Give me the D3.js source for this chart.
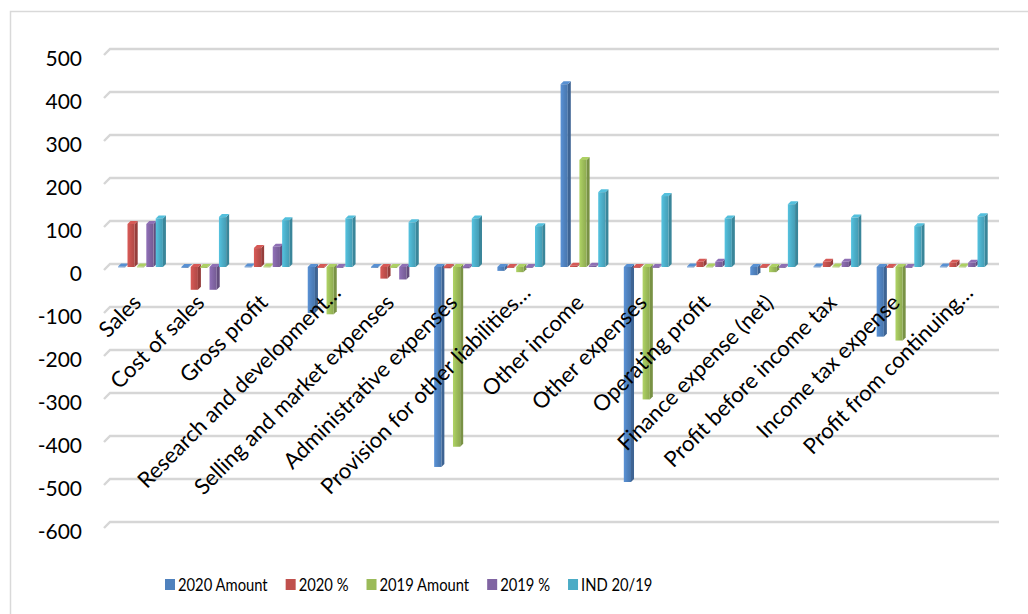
<!DOCTYPE html>
<html>
<head>
<meta charset="utf-8">
<script src="https://cdn.jsdelivr.net/npm/d3@7"></script>
<style>
  html, body { margin: 0; padding: 0; background: #ffffff; }
  svg { display: block; }
  text { font-family: Lato, "Open Sans", sans-serif; fill: #000; }
</style>
</head>
<body>
<svg id="chart" width="1028" height="614"></svg>
<script>
// Income statement lines
const categories = [
  "Sales", "Cost of sales", "Gross profit", "Research and development…",
  "Selling and market expenses", "Administrative expenses",
  "Provision for other liabilities…", "Other income", "Other expenses",
  "Operating profit", "Finance expense (net)", "Profit before income tax",
  "Income tax expense", "Profit from continuing…"
];

// Series values, one per category
const amount2020 = [1, -1, 1, -107, -1, -465, -9, 425, -500, 1, -19, 1, -162, 1];
const pct2020    = [100, -53, 44, -2, -27, -3, -2, 3, -2, 12, -2, 12, -2, 10];
const amount2019 = [1, -2, 1, -110, -2, -418, -12, 249, -308, 1, -12, 1, -171, 1];
const pct2019    = [100, -53, 47, -2, -29, -3, -2, 3, -2, 12, -2, 12, -2, 10];
const ind2019    = [113, 116, 109, 113, 104, 113, 95, 174, 165, 113, 146, 115, 95, 118];

const seriesNames = ["2020 Amount", "2020 %", "2019 Amount", "2019 %", "IND 20/19"];
const seriesValues = [amount2020, pct2020, amount2019, pct2019, ind2019];
const seriesColors = ["#4F81BD", "#C0504D", "#9BBB59", "#8064A2", "#4BACC6"];

const yTicks = [500, 400, 300, 200, 100, 0, -100, -200, -300, -400, -500, -600];

const svg = d3.select("#chart");

// outer frame of the chart area
svg.append("rect")
  .attr("x", 10.5).attr("y", 11.5)
  .attr("width", 1040).attr("height", 640)
  .attr("fill", "none").attr("stroke", "#d9d9d9").attr("stroke-width", 1.5);

const y = d3.scaleLinear().domain([-600, 500]).range([525, 52]);
const x0 = d3.scaleBand().domain(categories).range([110, 995]).paddingInner(0.256).paddingOuter(0.128);
const x1 = d3.scaleBand().domain(seriesNames).range([0, x0.bandwidth()]);

const depth = 3;           // 3D offset of the bar side / top faces

// gridlines with the short slanted side-wall segment at the left
const grid = svg.append("g");
yTicks.forEach(v => {
  const yy = y(v);
  grid.append("path")
    .attr("d", `M104,${yy + 3}L110,${yy - 3}L999,${yy - 3}`)
    .attr("fill", "none")
    .attr("stroke", "#d6d6d6")
    .attr("stroke-width", 2.4);
});

// y axis labels
svg.append("g").selectAll("text")
  .data(yTicks)
  .join("text")
  .attr("x", 82)
  .attr("y", d => y(d) + 5)
  .attr("text-anchor", "end")
  .attr("dominant-baseline", "central")
  .attr("font-size", 21)
  .text(d => d);

// gradients for the front faces
const defs = svg.append("defs");
seriesColors.forEach((c, i) => {
  const g = defs.append("linearGradient")
    .attr("id", "grad" + i)
    .attr("x1", "0%").attr("x2", "100%").attr("y1", "0%").attr("y2", "0%");
  g.append("stop").attr("offset", "0%").attr("stop-color", d3.color(c).brighter(0.35));
  g.append("stop").attr("offset", "55%").attr("stop-color", c);
  g.append("stop").attr("offset", "100%").attr("stop-color", d3.color(c).darker(0.25));
});

// bars
const barW = x1.bandwidth() - depth + 0.8;
const groups = svg.append("g").selectAll("g")
  .data(categories)
  .join("g")
  .attr("transform", d => `translate(${x0(d)},0)`);

groups.each(function (cat, ci) {
  const g = d3.select(this);
  seriesNames.forEach((s, si) => {
    const v = seriesValues[si][ci];
    const bx = x1(s);
    const top = y(Math.max(v, 0));
    const bot = y(Math.min(v, 0));
    const col = seriesColors[si];
    // side face
    g.append("path")
      .attr("d", `M${bx + barW},${top}L${bx + barW + depth},${top - depth}L${bx + barW + depth},${bot - depth}L${bx + barW},${bot}Z`)
      .attr("fill", d3.color(col).darker(0.7));
    // top face
    g.append("path")
      .attr("d", `M${bx},${top}L${bx + depth},${top - depth}L${bx + barW + depth},${top - depth}L${bx + barW},${top}Z`)
      .attr("fill", d3.color(col).brighter(0.3));
    // front face
    g.append("rect")
      .attr("x", bx).attr("y", top)
      .attr("width", barW).attr("height", Math.max(bot - top, 0.8))
      .attr("fill", `url(#grad${si})`);
  });
});

// rotated category labels; truncated labels run a little further along their baseline
svg.append("g").selectAll("text")
  .data(categories)
  .join("text")
  .attr("text-anchor", "end")
  .attr("font-size", 22)
  .attr("transform", d => {
    const shift = d.endsWith("…") ? 10 : 0;
    return `translate(${x0(d) + x0.bandwidth() / 2 + 1 + shift},${304 - shift}) rotate(-45)`;
  })
  .text(d => d);

// legend
const legend = svg.append("g");
let lx = 165;
seriesNames.forEach((s, i) => {
  legend.append("rect")
    .attr("x", lx).attr("y", 579)
    .attr("width", 10).attr("height", 11)
    .attr("fill", seriesColors[i]);
  const t = legend.append("text")
    .attr("x", lx + 13).attr("y", 591)
    .attr("font-size", 18)
    .text(s);
  const w = t.node().getComputedTextLength() * 0.82;
  t.attr("textLength", w).attr("lengthAdjust", "spacingAndGlyphs");
  lx += 13 + w + 18;
});
</script>
</body>
</html>
